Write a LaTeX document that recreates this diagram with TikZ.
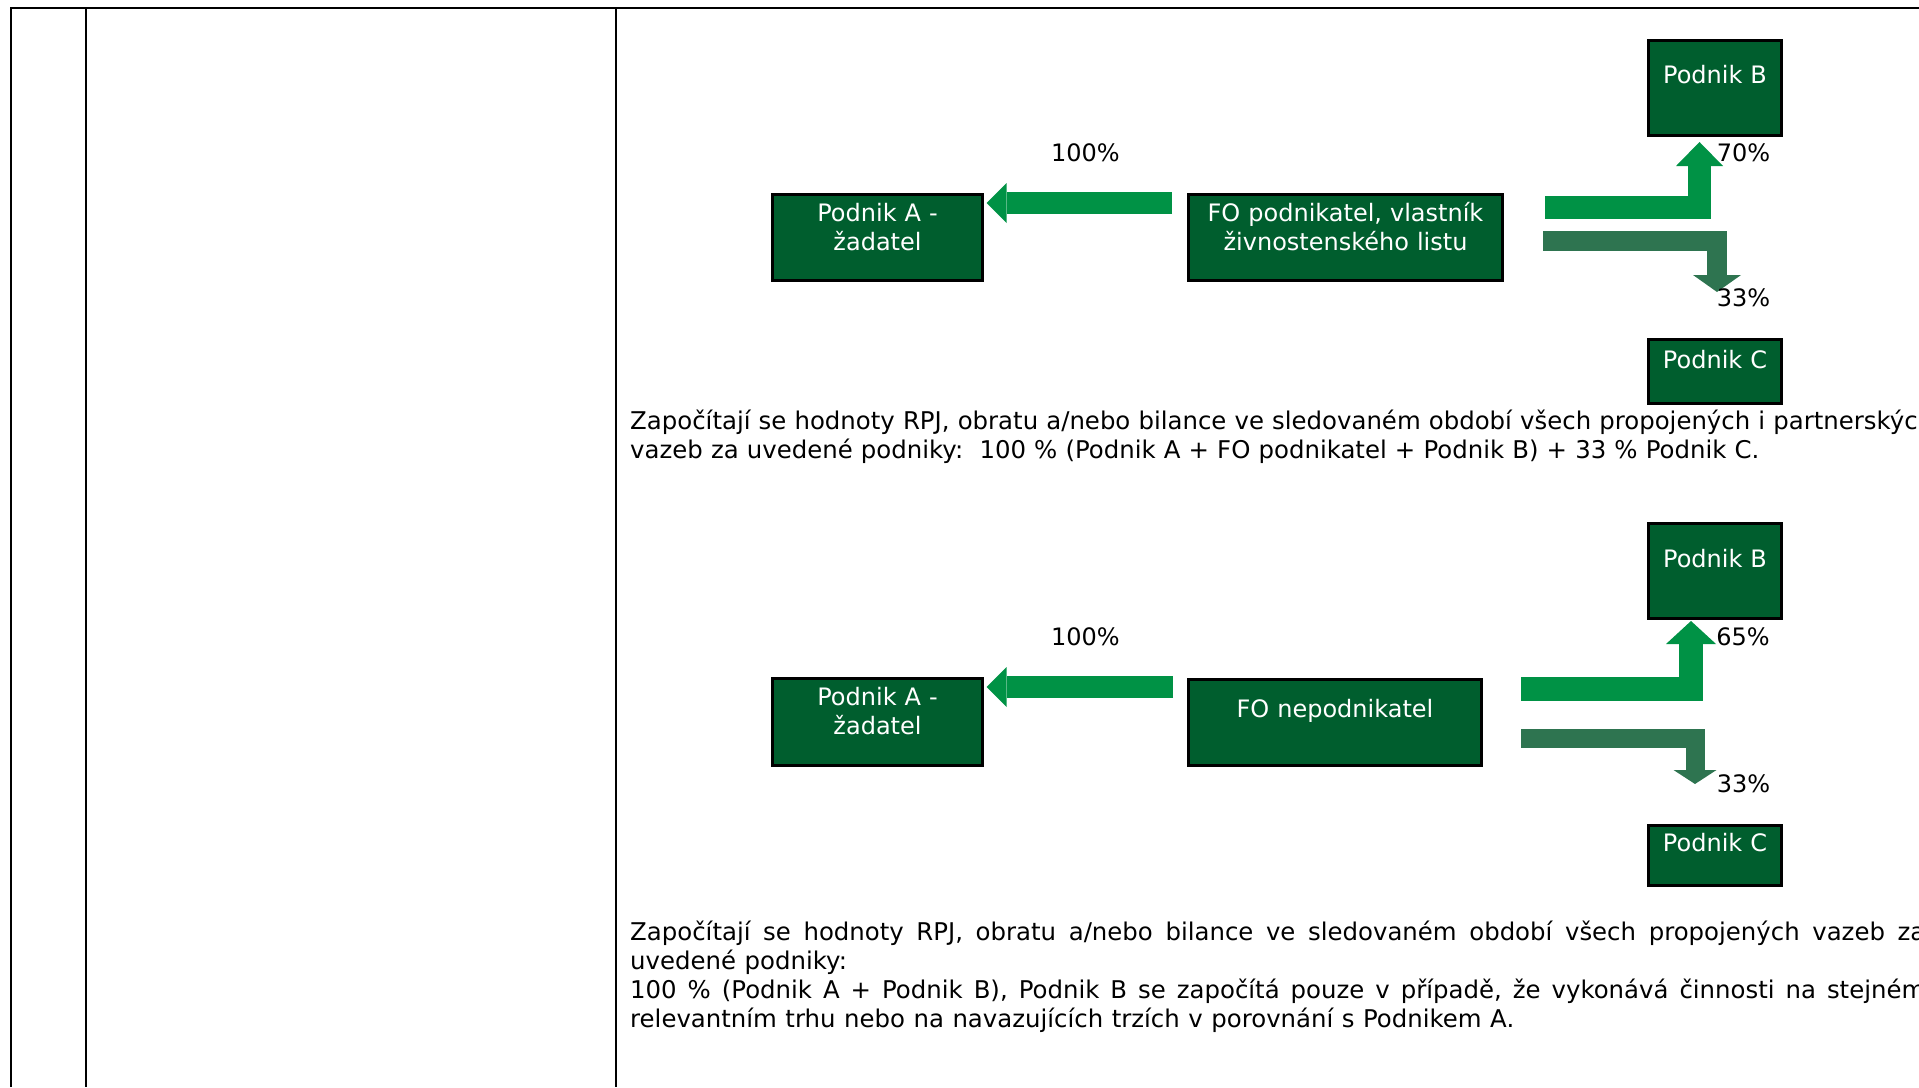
\documentclass[tikz,border=0pt]{standalone}
\usepackage{fontspec}
\setmainfont{DejaVu Sans}[WordSpace=1.1]
\usepackage{xcolor}
\usetikzlibrary{arrows.meta}
\definecolor{firmgreen}{RGB}{0,94,46}
\definecolor{flowgreen}{RGB}{0,146,69}
\definecolor{sharegreen}{RGB}{46,116,80}
\frenchspacing

\begin{document}
\begin{tikzpicture}[x=1pt,y=-1pt,
  frame/.style={line width=2.5pt},
  firm/.style={draw=black,line width=3pt,fill=firmgreen,text=white,inner sep=0pt,outer sep=0pt,
    align=center,anchor=north,font=\fontsize{24}{29.5}\selectfont},
  pct/.style={anchor=base,inner sep=0pt,font=\fontsize{24}{29}\selectfont},
  note/.style={anchor=base west,inner sep=0pt,font=\fontsize{24.4}{29}\selectfont},
  flow/.style={draw=flowgreen,line width=22pt},
  share/.style={draw=sharegreen,line width=20pt}]

\useasboundingbox (0,0) rectangle (1919,1087);

% table frame
\draw[frame] (11,1087) -- (11,8) -- (1925,8);
\draw[frame] (86,8) -- (86,1087);
\draw[frame] (616,8) -- (616,1087);

% === Case 1: FO podnikatel ===
\node[firm,text width=133pt,text height=42.8pt,text depth=52.2pt] (b1) at (1715,40.5) {Podnik B};
\node[firm,text width=133pt,text height=28.8pt,text depth=35.2pt] (c1) at (1715,339.5) {Podnik C};
\node[firm,text width=210pt,text height=26.5pt,text depth=59.5pt] (a1) at (877.5,194.5) {Podnik A -\\ žadatel};
\node[firm,text width=314pt,text height=26.5pt,text depth=59.5pt] (fo1) at (1345.5,194.5) {FO podnikatel, vlastník\\ živnostenského listu};

\coordinate (t1) at (1172,203);
\coordinate (s1) at (1545,207.5);
\coordinate (u1) at (1699.5,142);
\coordinate (s2) at (1543,241);
\coordinate (d1) at (1717,292);
\draw[flow,-{Triangle[line width=0pt,length=20pt,width=40pt]},shorten >=4pt] (t1) -- (a1.east |- t1);
\draw[flow,line width=23pt,-{Triangle[line width=0pt,length=24pt,width=47pt]}] (s1) -| (u1);
\draw[share,-{Triangle[line width=0pt,length=17pt,width=48pt]}] (s2) -| (d1);

\node[pct] (p100a) at (1085.5,161.7) {100\%};
\node[pct] (p70) at (1743.5,161.7) {70\%};
\node[pct] (p33a) at (1743.5,306.7) {33\%};

\node[note,text width=1400pt,align=left] (note1) at (630,429)
  {Započítají se hodnoty RPJ, obratu a/nebo bilance ve sledovaném období všech propojených i partnerských\\
   vazeb za uvedené podniky:~ 100~\% (Podnik A + FO podnikatel + Podnik B) + 33~\% Podnik C.};

% === Case 2: FO nepodnikatel ===
\node[firm,text width=133pt,text height=43.8pt,text depth=51.2pt] (b2) at (1715,523.5) {Podnik B};
\node[firm,text width=133pt,text height=26.2pt,text depth=33.8pt] (c2) at (1715,825.5) {Podnik C};
\node[firm,text width=210pt,text height=26.5pt,text depth=60.5pt] (a2) at (877.5,678.5) {Podnik A -\\ žadatel};
\node[firm,text width=293pt,text height=38pt,text depth=48pt] (fo2) at (1335,679.5) {FO nepodnikatel};

\coordinate (t2) at (1173,687);
\coordinate (s3) at (1521,689);
\coordinate (u2) at (1691,621);
\coordinate (s4) at (1521,738.5);
\coordinate (d2) at (1695,784);
\draw[flow,-{Triangle[line width=0pt,length=20pt,width=40pt]},shorten >=4pt] (t2) -- (a2.east |- t2);
\draw[flow,line width=24pt,-{Triangle[line width=0pt,length=23pt,width=50pt]}] (s3) -| (u2);
\draw[share,line width=19pt,-{Triangle[line width=0pt,length=14pt,width=43pt]}] (s4) -| (d2);

\node[pct] (p100b) at (1085.5,645.7) {100\%};
\node[pct] (p65) at (1743,645) {65\%};
\node[pct] (p33b) at (1743.5,792.7) {33\%};

\node[note,text width=1295pt,align=justify] (note2) at (630,940)
  {Započítají se hodnoty RPJ, obratu a/nebo bilance ve sledovaném období všech propojených vazeb za\linebreak
   uvedené podniky:\\
   100~\% (Podnik A + Podnik B), Podnik B se započítá pouze v případě, že vykonává činnosti na stejném\linebreak
   relevantním trhu nebo na navazujících trzích v porovnání s Podnikem A.};

\end{tikzpicture}
\end{document}
